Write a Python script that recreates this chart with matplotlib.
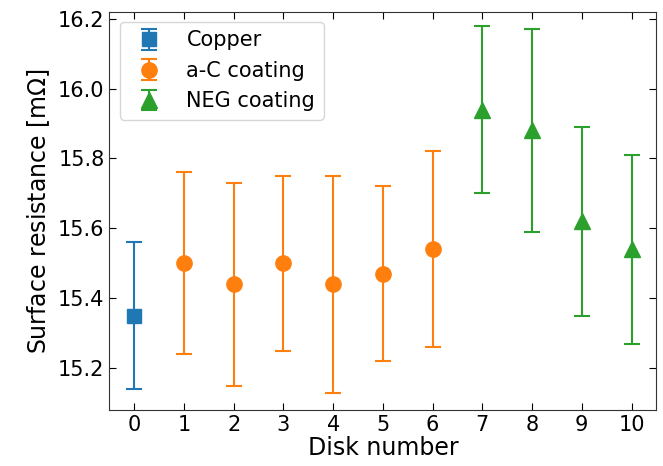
import matplotlib.pyplot as plt

# disk numbers and surface resistance values [mOhm]
cu_disk = [0]
cu_val = [15.35]
cu_err = [0.21]

ac_disk = [1, 2, 3, 4, 5, 6]
ac_val = [15.50, 15.44, 15.50, 15.44, 15.47, 15.54]
ac_err = [0.26, 0.29, 0.25, 0.31, 0.25, 0.28]

neg_disk = [7, 8, 9, 10]
neg_val = [15.94, 15.88, 15.62, 15.54]
neg_err = [0.24, 0.29, 0.27, 0.27]

fig, ax = plt.subplots(figsize=(6.63, 4.66), dpi=100)

ax.errorbar(cu_disk, cu_val, yerr=cu_err, fmt='s', color='tab:blue',
            markersize=10, capsize=6, elinewidth=1.5, capthick=1.5, label='Copper')
ax.errorbar(ac_disk, ac_val, yerr=ac_err, fmt='o', color='tab:orange',
            markersize=11, capsize=6, elinewidth=1.5, capthick=1.5, label='a-C coating')
ax.errorbar(neg_disk, neg_val, yerr=neg_err, fmt='^', color='tab:green',
            markersize=11, capsize=6, elinewidth=1.5, capthick=1.5, label='NEG coating')

ax.set_xlim(-0.5, 10.5)
ax.set_ylim(15.08, 16.22)
ax.set_xticks(range(0, 11))
ax.set_yticks([15.2, 15.4, 15.6, 15.8, 16.0, 16.2])
ax.tick_params(direction='in', top=True, right=True, labelsize=15, length=5)
for s in ax.spines.values():
    s.set_color('#333333')
ax.set_xlabel('Disk number', fontsize=17, labelpad=1)
ax.set_ylabel('Surface resistance [m$\\Omega$]', fontsize=17)
ax.legend(loc='upper left', fontsize=15)

fig.subplots_adjust(left=0.165, right=0.99, top=0.975, bottom=0.12)
fig.savefig('out.png', dpi=100)
